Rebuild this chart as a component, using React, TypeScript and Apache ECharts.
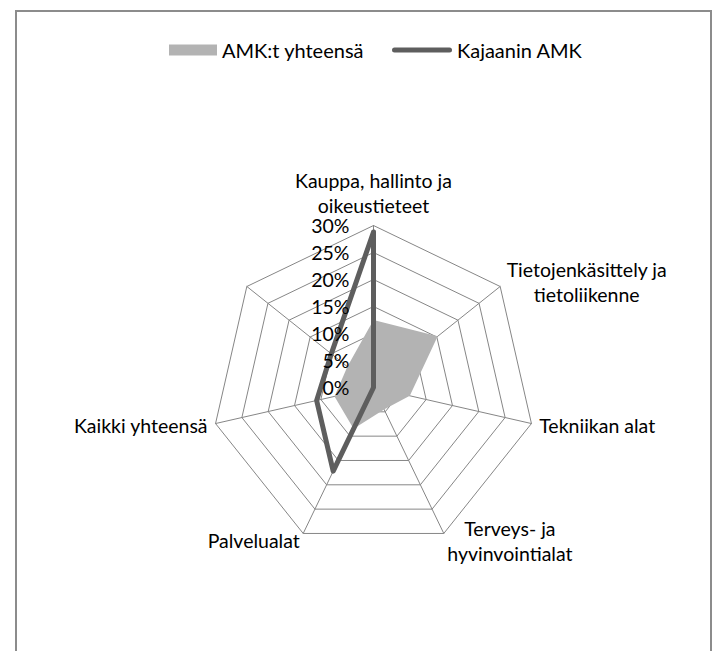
import React, { useEffect, useRef } from "react";
import * as echarts from "echarts";

// Categories in clockwise order starting from the top
const categories: string[] = [
  "Kauppa, hallinto ja\noikeustieteet",
  "Tietojenkäsittely ja\ntietoliikenne",
  "Tekniikan alat",
  "Terveys- ja\nhyvinvointialat",
  "Palvelualat",
  "Kaikki yhteensä",
  "",
];

const seriesNames: string[] = ["AMK:t yhteensä", "Kajaanin AMK"];

// values in percent, same order as categories
const amkValues: number[] = [12.5, 15.2, 6.9, 4.5, 8.5, 7.4, 6.2];
const kajaaniValues: number[] = [28.8, 0, 0, 0, 17.2, 10.8, 10];

const axisMin = 0;
const axisMax = 30;
const axisSplits = 6;

const FONT = "Lato";
const FS = 19.5;
const LFS = 20;

export default function App() {
  const ref = useRef<HTMLDivElement>(null);

  useEffect(() => {
    if (!ref.current) return;
    const chart = echarts.init(ref.current, undefined, { renderer: "svg" });

    // ECharts places radar indicators counter-clockwise; reorder to get clockwise
    const order = categories.map((_, k) => (categories.length - k) % categories.length);
    const pick = (arr: number[]) => order.map((i) => arr[i]);

    const gridIndicator = order.map((i) => ({ name: categories[i], min: axisMin, max: axisMax }));
    const labelIndicator = order.map((i) => {
      const ind: any = { name: "", min: axisMin, max: axisMax };
      if (i === 0) ind.axisLabel = { show: true };
      return ind;
    });

    const center = [373.5, 387.5];
    const radius = 162;

    const option: any = {
      animation: false,
      textStyle: { fontFamily: FONT },
      graphic: [
        {
          type: "rect",
          silent: true,
          shape: { x: 16, y: 11, width: 695, height: 700 },
          style: { fill: "none", stroke: "#8c8c8c", lineWidth: 2 },
        },
      ],
      legend: [
        {
          data: [{ name: seriesNames[0], icon: "rect" }],
          left: 164,
          top: 35,
          itemWidth: 48,
          itemHeight: 11,
          selectedMode: false,
          textStyle: { fontSize: LFS, color: "#000", fontFamily: FONT },
        },
        {
          data: [
            {
              name: seriesNames[1],
              icon:
                "path://M0,0 M0,10 M2.5,2.5 H57.5 A2.5,2.5 0 0 1 57.5,7.5 H2.5 A2.5,2.5 0 0 1 2.5,2.5 Z",
            },
          ],
          left: 387,
          top: 35,
          itemWidth: 60,
          itemHeight: 10,
          selectedMode: false,
          textStyle: { fontSize: LFS, color: "#000", fontFamily: FONT },
        },
      ],
      radar: [
        {
          center,
          radius,
          startAngle: 90,
          shape: "polygon",
          splitNumber: axisSplits,
          indicator: gridIndicator,
          nameGap: 8,
          axisName: {
            color: "#000",
            fontSize: FS,
            fontFamily: FONT,
            lineHeight: 25,
            formatter: (name: string) =>
              name
                .split("\n")
                .map((l) => `{c|${l}}`)
                .join("\n"),
            rich: {
              c: {
                align: "center",
                color: "#000",
                fontSize: FS,
                fontFamily: FONT,
                lineHeight: 25,
              },
            },
          },
          splitLine: { lineStyle: { color: "#868686", width: 1 } },
          splitArea: { show: false },
          axisLine: { lineStyle: { color: "#868686", width: 1 } },
          axisTick: { show: false },
          axisLabel: { show: false },
        },
        {
          center,
          radius,
          startAngle: 90,
          shape: "polygon",
          splitNumber: axisSplits,
          indicator: labelIndicator,
          z: 10,
          axisName: { show: false },
          splitLine: { show: false },
          splitArea: { show: false },
          axisLine: { show: false },
          axisTick: { show: false },
          axisLabel: {
            show: false,
            formatter: "{value}%",
            color: "#000",
            fontSize: FS,
            fontFamily: FONT,
            margin: 24,
          },
        },
      ],
      series: [
        {
          type: "radar",
          radarIndex: 0,
          symbol: "none",
          data: [
            {
              name: seriesNames[0],
              value: pick(amkValues),
              areaStyle: { color: "#b3b3b3", opacity: 1 },
              lineStyle: { width: 0, color: "#b3b3b3" },
              itemStyle: { color: "#b3b3b3" },
            },
            {
              name: seriesNames[1],
              value: pick(kajaaniValues),
              lineStyle: { color: "#5e5e5e", width: 5, join: "round", cap: "round" },
              itemStyle: { color: "#5e5e5e" },
            },
          ],
        },
      ],
    };

    chart.setOption(option);
    return () => chart.dispose();
  }, []);

  return (
    <div
      ref={ref}
      style={{ position: "fixed", left: 0, top: 0, width: 712, height: 651, background: "#fff" }}
    />
  );
}
